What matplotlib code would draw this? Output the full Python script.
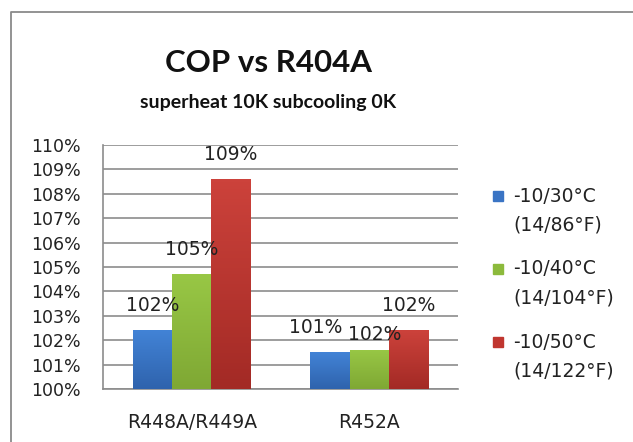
import matplotlib.pyplot as plt
import numpy as np
from matplotlib.lines import Line2D
from matplotlib.colors import LinearSegmentedColormap
from matplotlib.ticker import FuncFormatter

# data
categories = ['R448A/R449A', 'R452A']
series_labels = ['-10/30°C\n(14/86°F)', '-10/40°C\n(14/104°F)', '-10/50°C\n(14/122°F)']
values = [
    [1.024, 1.015],   # -10/30°C
    [1.047, 1.016],   # -10/40°C
    [1.086, 1.024],   # -10/50°C
]
value_labels = [
    ['102%', '101%'],
    ['105%', '102%'],
    ['109%', '102%'],
]
colors = ['#3a74c4', '#8cba3c', '#c0362f']
# light top / dark bottom, like the excel fill
grads = [('#4283d6', '#2f63ad'), ('#98c745', '#7fa834'), ('#cc423b', '#a32a25')]

# label nudges (points), where excel shoved overlapping labels around
nudge = {(0, 1): (-10, 18), (1, 1): (4, 11), (1, 0): (0, 18)}

fig = plt.figure(figsize=(6.33, 4.42), dpi=100)
fig.patch.set_facecolor('white')

# outer chart border: only top and left edges are in frame
fig.add_artist(Line2D([0.0174, 0.0174, 1.0], [0.0, 0.9729, 0.9729], transform=fig.transFigure,
                      color='#8a8a8a', lw=1.3))

ax = fig.add_axes([0.1627, 0.1199, 0.5608, 0.552])
ax.set_xlim(-0.5, 1.5)
ax.set_ylim(1.0, 1.10)

x = np.arange(len(categories))
w = 1 / 4.5
for i, (vals, col) in enumerate(zip(values, colors)):
    xs = x + (i - 1) * w
    bars = ax.bar(xs, np.array(vals) - 1.0, width=w, bottom=1.0, color=col, zorder=3)
    cmap = LinearSegmentedColormap.from_list('g%d' % i, [grads[i][1], grads[i][0]])
    for j, (b, lab) in enumerate(zip(bars, value_labels[i])):
        x0, y0 = b.get_x(), b.get_y()
        bw, bh = b.get_width(), b.get_height()
        im = ax.imshow(np.linspace(0, 1, 64).reshape(-1, 1), cmap=cmap, origin='lower',
                       extent=[x0, x0 + bw, y0, y0 + bh], aspect='auto', zorder=3.5)
        im.set_clip_path(b)
        dx, dy = nudge.get((i, j), (0, 18))
        ax.annotate(lab, (x0 + bw / 2, y0 + bh),
                    xytext=(dx, dy), textcoords='offset points', ha='center', va='center',
                    fontsize=13.5, color='#222222', zorder=5)

ax.set_xlim(-0.5, 1.5)
ax.set_ylim(1.0, 1.10)
ax.set_aspect('auto')
ax.set_yticks(np.arange(1.0, 1.1001, 0.01))
ax.yaxis.set_major_formatter(FuncFormatter(lambda v, p: f'{v*100:.0f}%'))
ax.set_xticks(x)
ax.set_xticklabels(categories)
ax.tick_params(axis='y', length=0, pad=16, labelsize=12.5, labelcolor='#222222')
ax.tick_params(axis='x', length=0, pad=17, labelsize=13.5, labelcolor='#222222')
ax.grid(axis='y', color='#8c8c8c', lw=1.2, zorder=0)
for s in ['top', 'right']:
    ax.spines[s].set_visible(False)
ax.spines['left'].set_color('#8c8c8c')
ax.spines['left'].set_linewidth(1.2)
ax.spines['bottom'].set_color('#8c8c8c')
ax.spines['bottom'].set_linewidth(1.2)

fig.text(0.4234, 0.857, 'COP vs R404A', ha='center', va='center',
         fontsize=22.5, fontweight='bold', family='Lato', color='#111111')
fig.text(0.4234, 0.769, 'superheat 10K subcooling 0K', ha='center', va='center',
         fontsize=14, fontweight='bold', family='Lato', color='#111111')

# legend, drawn by hand to get the excel layout
for i, (lab, col) in enumerate(zip(series_labels, colors)):
    y1 = 1 - (196 + 73 * i) / 442
    y2 = 1 - (225 + 73 * i) / 442
    fig.add_artist(Line2D([0.7867], [y1], marker='s', markersize=6.5, color=col,
                          transform=fig.transFigure))
    line1, line2 = lab.split('\n')
    fig.text(0.8104, y1, line1, va='center', fontsize=13.5, color='#222222')
    fig.text(0.8104, y2, line2, va='center', fontsize=13.5, color='#222222')

fig.savefig('out.png', dpi=100)
